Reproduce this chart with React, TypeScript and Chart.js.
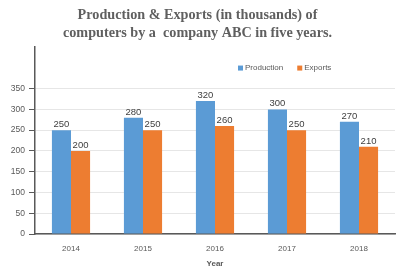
import React, { useEffect, useRef } from "react";
import { Chart, registerables } from "chart.js";

Chart.register(...registerables);

const years = ["2014", "2015", "2016", "2017", "2018"];
const production = [250, 280, 320, 300, 270];
const exportsData = [200, 250, 260, 250, 210];
const titleLines = [
  "Production & Exports (in thousands) of",
  "computers by a  company ABC in five years.",
];
const seriesNames = ["Production", "Exports"];
const seriesColors = ["#5B9BD5", "#ED7D31"];

const valueLabels = {
  id: "valueLabels",
  afterDatasetsDraw(chart: any) {
    const ctx = chart.ctx;
    ctx.save();
    ctx.font = "9.5px 'Liberation Sans', Arial, sans-serif";
    ctx.fillStyle = "#404040";
    ctx.textAlign = "center";
    ctx.textBaseline = "bottom";
    chart.data.datasets.forEach((ds: any, i: number) => {
      const meta = chart.getDatasetMeta(i);
      meta.data.forEach((el: any, j: number) => {
        ctx.fillText(String(ds.data[j]), el.x, el.y - 1);
      });
    });
    ctx.restore();
  },
};

const innerLegend = {
  id: "innerLegend",
  afterDraw(chart: any) {
    const ctx = chart.ctx;
    const area = chart.chartArea;
    ctx.save();
    ctx.font = "8px 'Liberation Sans', Arial, sans-serif";
    ctx.textBaseline = "middle";
    ctx.textAlign = "left";
    let x = area.right - 157;
    const y = area.top + 21;
    chart.data.datasets.forEach((ds: any) => {
      ctx.fillStyle = ds.backgroundColor;
      ctx.fillRect(x, y - 2.5, 5, 5);
      ctx.fillStyle = "#595959";
      ctx.fillText(ds.label, x + 7, y);
      x += 7 + ctx.measureText(ds.label).width + 14;
    });
    ctx.restore();
  },
};

export default function App() {
  const ref = useRef<HTMLCanvasElement>(null);
  useEffect(() => {
    document.body.style.margin = "0";
    const chart = new Chart(ref.current as HTMLCanvasElement, {
      type: "bar",
      data: {
        labels: years,
        datasets: [
          {
            label: seriesNames[0],
            data: production,
            backgroundColor: seriesColors[0],
            categoryPercentage: 0.53,
            barPercentage: 1,
          },
          {
            label: seriesNames[1],
            data: exportsData,
            backgroundColor: seriesColors[1],
            categoryPercentage: 0.53,
            barPercentage: 1,
          },
        ],
      },
      options: {
        responsive: false,
        animation: false,
        layout: { padding: { left: 0, right: 7, top: 0, bottom: 0 } },
        plugins: {
          legend: { display: false },
          tooltip: { enabled: false },
          title: {
            display: true,
            text: titleLines,
            color: "#5f5f5f",
            font: { family: "'Liberation Serif', 'Times New Roman', serif", size: 14.2, weight: "bold", lineHeight: 1.27 },
            padding: { top: 6, bottom: 5 },
          },
        },
        scales: {
          x: {
            grid: { display: false },
            border: { display: true, color: "#595959", width: 1.5 },
            ticks: {
              color: "#595959",
              font: { family: "'Liberation Sans', Arial, sans-serif", size: 8 },
              padding: 2,
            },
            title: {
              display: true,
              text: "Year",
              color: "#595959",
              font: { family: "'Liberation Sans', Arial, sans-serif", size: 8, weight: "bold" },
              padding: { top: 4, bottom: 2 },
            },
            afterFit: (s: any) => {
              s.height = 37;
            },
          },
          y: {
            min: 0,
            max: 450,
            ticks: {
              stepSize: 50,
              color: "#595959",
              font: { family: "'Liberation Sans', Arial, sans-serif", size: 8.5 },
              padding: 4,
            },
            afterBuildTicks: (s: any) => {
              s.ticks = s.ticks.filter((t: any) => t.value <= 350);
            },
            grid: { color: "#e6e6e6", tickColor: "#595959", tickLength: 6 },
            border: { display: true, color: "#595959", width: 1.5 },
            afterFit: (s: any) => {
              s.width = 35;
            },
          },
        },
      },
      plugins: [valueLabels, innerLegend],
    });
    return () => chart.destroy();
  }, []);
  return <canvas ref={ref} width={402} height={271} style={{ display: "block" }} />;
}
